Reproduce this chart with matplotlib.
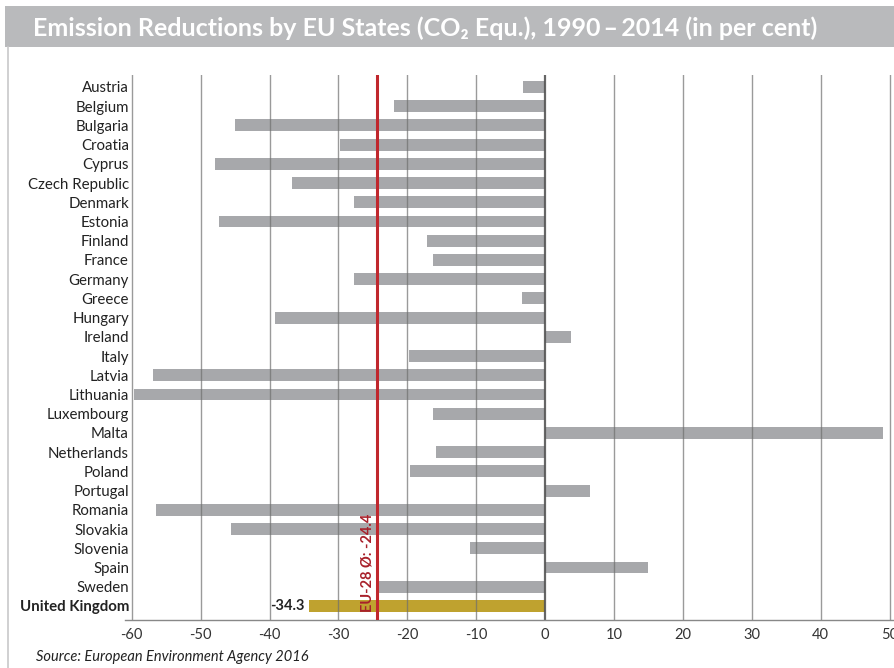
import matplotlib.pyplot as plt
from matplotlib.patches import Rectangle
from matplotlib.lines import Line2D

# Data
countries = ['Austria', 'Belgium', 'Bulgaria', 'Croatia', 'Cyprus', 'Czech Republic',
             'Denmark', 'Estonia', 'Finland', 'France', 'Germany', 'Greece', 'Hungary',
             'Ireland', 'Italy', 'Latvia', 'Lithuania', 'Luxembourg', 'Malta',
             'Netherlands', 'Poland', 'Portugal', 'Romania', 'Slovakia', 'Slovenia',
             'Spain', 'Sweden', 'United Kingdom']
values = [-3.2, -22.0, -45.0, -29.8, -47.9, -36.8, -27.7, -47.3, -17.1, -16.3, -27.8,
          -3.3, -39.2, 3.7, -19.8, -56.9, -59.6, -16.3, 49.1, -15.8, -19.6, 6.5,
          -56.4, -45.6, -10.9, 15.0, -24.2, -34.3]
highlight = 'United Kingdom'
eu_avg = -24.4
xticks = [-60, -50, -40, -30, -20, -10, 0, 10, 20, 30, 40, 50]

plt.rcParams['font.family'] = ['Lato', 'DejaVu Sans']

fig = plt.figure(figsize=(8.95, 6.68), dpi=100)
W, H = 895, 668

# title bar
fig.patches.append(Rectangle((5 / W, 1 - 47 / H), 1, 41 / H, transform=fig.transFigure,
                             facecolor='#b9babc', edgecolor='none'))
fig.lines.append(Line2D([8 / W, 8 / W], [0, 1 - 47 / H], transform=fig.transFigure,
                        color='#c8c8ca', lw=1.2))
fig.text(33 / W, 1 - 28 / H, 'Emission Reductions by EU States (CO\u2082 Equ.), 1990\u2009\u2013\u20092014 (in per cent)',
         color='white', fontsize=18, fontweight='bold', va='center', ha='left')

ax = fig.add_axes([124.8 / W, 1 - 620 / H, 769.7 / W, 545 / H])

y = list(range(len(countries)))
colors = ['#bfa22f' if c == highlight else '#a7a8ab' for c in countries]
ax.barh(y, values, height=0.62, color=colors, zorder=1)

for t in xticks:
    ax.axvline(t, color='#555555' if t == 0 else '#6f6f6f', lw=1.6 if t == 0 else 1.0,
               alpha=0.9 if t == 0 else 0.7, zorder=2)

ax.axvline(eu_avg, color='#c0272d', lw=2.2, zorder=3)
ax.text(eu_avg - 0.3, 27.3, 'EU-28 \u00d8: -24.4', rotation=90, ha='right', va='bottom',
        color='#a8202a', fontsize=10.5, fontweight='bold')

ui = countries.index(highlight)
ax.text(values[ui] - 0.6, ui, '-34.3', ha='right', va='center', fontsize=10.5,
        fontweight='bold', color='#222222')

ax.set_xlim(-61, 50.7)
ax.set_ylim(27.73, -0.62)
ax.set_xticks(xticks)
ax.set_xticklabels([str(t) for t in xticks], fontsize=10.5, color='#333333')
ax.set_yticks(y)
ax.set_yticklabels(countries, fontsize=10.8, color='#222222')
for lbl in ax.get_yticklabels():
    if lbl.get_text() == highlight:
        lbl.set_fontweight('bold')
ax.tick_params(axis='y', length=0, pad=-3)
ax.tick_params(axis='x', length=0, pad=6)

for s in ['top', 'right', 'left']:
    ax.spines[s].set_visible(False)
ax.spines['bottom'].set_color('#888888')
ax.spines['bottom'].set_linewidth(1.0)

fig.text(36 / W, 1 - 657 / H, 'Source: European Environment Agency 2016', fontsize=10.5,
         style='italic', color='#222222', va='center', ha='left')

fig.savefig('out.png', dpi=100)
